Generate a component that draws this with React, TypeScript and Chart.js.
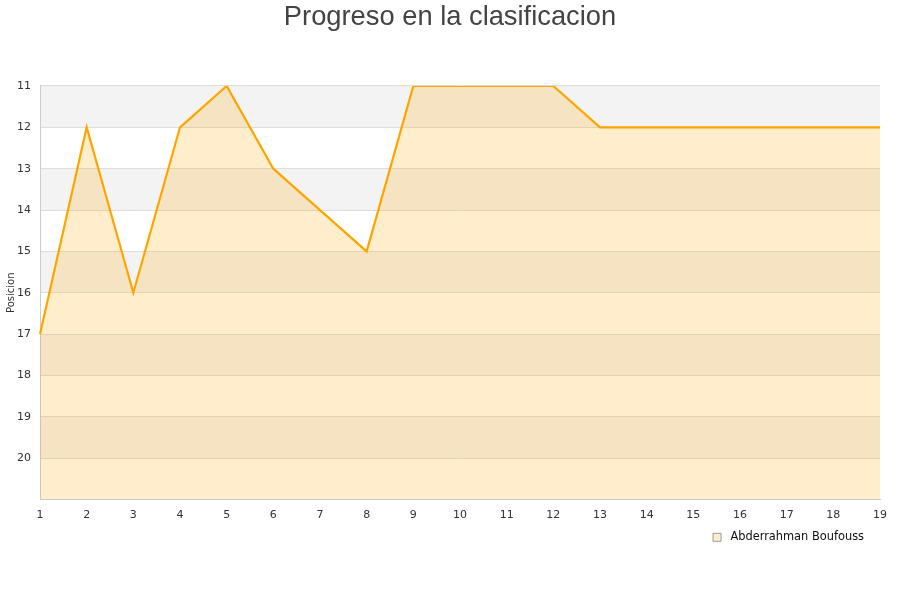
import React, { useEffect, useRef } from "react";
import { Chart, registerables } from "chart.js";

Chart.register(...registerables);

const jornadas = ["1","2","3","4","5","6","7","8","9","10","11","12","13","14","15","16","17","18","19"];
const posiciones = [17, 12, 16, 12, 11, 13, 14, 15, 11, 11, 11, 11, 12, 12, 12, 12, 12, 12, 12];
const serieNombre = "Abderrahman Boufouss";
const bandasGris = [[11, 12], [13, 14], [15, 16], [17, 18], [19, 20]];

const bandPlugin = {
  id: "bands",
  afterLayout(chart: any) {
    const lg = chart.legend;
    if (lg) {
      lg.right -= 12;
      lg.top -= 2;
      lg.bottom -= 2;
    }
    const tb = chart.titleBlock;
    if (tb) {
      tb.right += 20;
    }
  },
  beforeDraw(chart: any) {
    const { ctx, chartArea, scales } = chart;
    const y = scales.y;
    ctx.save();
    ctx.fillStyle = "#f3f3f3";
    for (const [a, b] of bandasGris) {
      const y1 = y.getPixelForValue(a);
      const y2 = y.getPixelForValue(b);
      ctx.fillRect(chartArea.left, Math.min(y1, y2), chartArea.right - chartArea.left, Math.abs(y2 - y1));
    }
    ctx.restore();
  },
};

export default function App() {
  const ref = useRef<HTMLCanvasElement>(null);
  useEffect(() => {
    if (!ref.current) return;
    const chart = new Chart(ref.current, {
      type: "line",
      data: {
        labels: jornadas,
        datasets: [
          {
            label: serieNombre,
            data: posiciones,
            borderColor: "#ffa500",
            backgroundColor: "rgba(255,165,0,0.2)",
            borderWidth: 2.2,
            pointRadius: 0,
            fill: { value: 21 },
            tension: 0,
          },
        ],
      },
      options: {
        animation: false,
        responsive: true,
        maintainAspectRatio: false,
        layout: { padding: { left: 0, right: 20, top: 0, bottom: 45 } },
        plugins: {
          title: {
            display: true,
            text: "Progreso en la clasificacion",
            color: "#444",
            font: { family: "Liberation Sans", size: 27.3, weight: "normal" },
            padding: { top: 1, bottom: 52.2 },
          },
          legend: {
            display: true,
            position: "bottom",
            align: "end",
            labels: {
              boxWidth: 8,
              boxHeight: 8,
              padding: 4,
              color: "#111",
              font: { family: "DejaVu Sans", size: 11.4 },
              generateLabels: (c: any) =>
                c.data.datasets.map((d: any, i: number) => ({
                  text: " " + d.label,
                  fillStyle: "#ffeecc",
                  strokeStyle: "#999",
                  lineWidth: 1,
                  fontColor: "#111",
                  datasetIndex: i,
                  hidden: false,
                })),
            },
          },
          tooltip: { enabled: false },
        },
        scales: {
          x: {
            offset: false,
            grid: { display: false, drawTicks: false },
            border: { display: true, color: "#ccc" },
            ticks: { color: "#333", padding: 9, font: { family: "DejaVu Sans", size: 11 }, maxRotation: 0, autoSkip: false },
            afterFit(scale: any) { scale.height = 30; },
          },
          y: {
            reverse: true,
            min: 11,
            max: 21,
            grid: { color: "#ddd", drawTicks: false },
            border: { display: true, color: "#ccc" },
            ticks: {
              stepSize: 1,
              color: "#333",
              padding: 9,
              font: { family: "DejaVu Sans", size: 11 },
              callback: (v: any) => (v === 21 ? "" : String(v)),
            },
            title: { display: true, text: "Posicion", color: "#333", font: { family: "DejaVu Sans", size: 10 }, padding: { top: 5, bottom: 0 } },
            afterFit(scale: any) { scale.width = 40; },
          },
        },
      },
      plugins: [bandPlugin],
    });
    return () => chart.destroy();
  }, []);
  return (
    <div style={{ position: "absolute", left: 0, top: 0, width: 900, height: 600, background: "#fff" }}>
      <canvas ref={ref} />
    </div>
  );
}
